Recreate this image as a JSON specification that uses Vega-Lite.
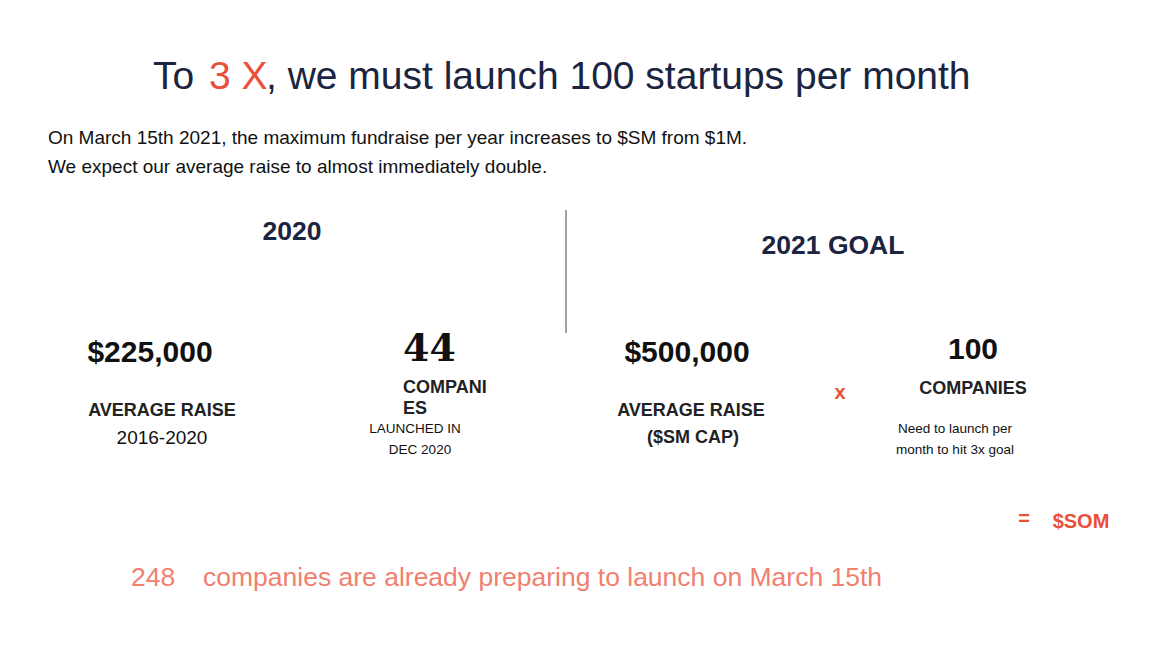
{
  "$schema": "https://vega.github.io/schema/vega-lite/v6.json",
  "width": 1152,
  "height": 648,
  "autosize": {"type": "fit", "contains": "padding"},
  "padding": 0,
  "background": "white",
  "config": {"view": {"stroke": null}, "text": {"baseline": "middle"}},
  "encoding": {
    "x": {"field": "x", "type": "quantitative", "scale": {"domain": [0, 1152]}, "axis": null},
    "y": {"field": "y", "type": "quantitative", "scale": {"domain": [648, 0]}, "axis": null},
    "text": {"field": "t"}
  },
  "layer": [
    {
      "data": {"values": [{"x": 566, "y": 210, "y2": 333}]},
      "mark": {"type": "rule", "color": "#444", "strokeWidth": 1},
      "encoding": {"y2": {"field": "y2"}}
    },
    {
      "data": {"values": [{"t": "To", "x": 153, "y": 77}, {"t": ", we  must launch 100 startups per month", "x": 266, "y": 77}]},
      "mark": {"type": "text", "align": "left", "fontSize": 39, "font": "Liberation Sans", "color": "#1b2440"}
    },
    {
      "data": {"values": [{"t": "3 X", "x": 209, "y": 77}]},
      "mark": {"type": "text", "align": "left", "fontSize": 39, "font": "Liberation Sans", "color": "#e8503a"}
    },
    {
      "data": {"values": [
        {"t": "On March 15th 2021, the maximum fundraise per year increases to $SM from $1M.", "x": 48, "y": 138},
        {"t": "We expect our average raise to almost immediately double.", "x": 48, "y": 167}
      ]},
      "mark": {"type": "text", "align": "left", "fontSize": 19, "font": "Liberation Sans", "color": "#111"}
    },
    {
      "data": {"values": [{"t": "2020", "x": 292, "y": 232}, {"t": "2021 GOAL", "x": 833, "y": 246}]},
      "mark": {"type": "text", "align": "center", "fontSize": 26.5, "fontWeight": "bold", "font": "Liberation Sans", "color": "#1b2440"}
    },
    {
      "data": {"values": [{"t": "$225,000", "x": 150, "y": 353}, {"t": "$500,000", "x": 687, "y": 353}, {"t": "100", "x": 973, "y": 350}]},
      "mark": {"type": "text", "align": "center", "fontSize": 30, "fontWeight": "bold", "font": "Liberation Sans", "color": "#111"}
    },
    {
      "data": {"values": [{"t": "44", "x": 403, "y": 350}]},
      "mark": {"type": "text", "align": "left", "fontSize": 38, "fontWeight": "bold", "font": "DejaVu Serif", "color": "#111"}
    },
    {
      "data": {"values": [
        {"t": "AVERAGE RAISE", "x": 162, "y": 411},
        {"t": "AVERAGE RAISE", "x": 691, "y": 411},
        {"t": "($SM CAP)", "x": 693, "y": 438},
        {"t": "COMPANIES", "x": 973, "y": 389}
      ]},
      "mark": {"type": "text", "align": "center", "fontSize": 18, "fontWeight": "bold", "font": "Liberation Sans", "color": "#222"}
    },
    {
      "data": {"values": [{"t": "COMPANI", "x": 403, "y": 388}, {"t": "ES", "x": 403, "y": 409}]},
      "mark": {"type": "text", "align": "left", "fontSize": 18, "fontWeight": "bold", "font": "Liberation Sans", "color": "#222"}
    },
    {
      "data": {"values": [{"t": "2016-2020", "x": 162, "y": 438}]},
      "mark": {"type": "text", "align": "center", "fontSize": 19, "font": "Liberation Sans", "color": "#111"}
    },
    {
      "data": {"values": [
        {"t": "LAUNCHED IN", "x": 415, "y": 429},
        {"t": "DEC 2020", "x": 420, "y": 450},
        {"t": "Need to launch per", "x": 955, "y": 429},
        {"t": "month to hit 3x goal", "x": 955, "y": 450}
      ]},
      "mark": {"type": "text", "align": "center", "fontSize": 13.5, "font": "Liberation Sans", "color": "#111"}
    },
    {
      "data": {"values": [{"t": "x", "x": 840, "y": 393}, {"t": "=", "x": 1024, "y": 519}, {"t": "$SOM", "x": 1081, "y": 522}]},
      "mark": {"type": "text", "align": "center", "fontSize": 20, "fontWeight": "bold", "font": "Liberation Sans", "color": "#e8503a"}
    },
    {
      "data": {"values": [{"t": "248", "x": 131, "y": 578}, {"t": "companies are already preparing to launch on March 15th", "x": 203, "y": 578}]},
      "mark": {"type": "text", "align": "left", "fontSize": 26.5, "font": "Liberation Sans", "color": "#f08070"}
    }
  ]
}
